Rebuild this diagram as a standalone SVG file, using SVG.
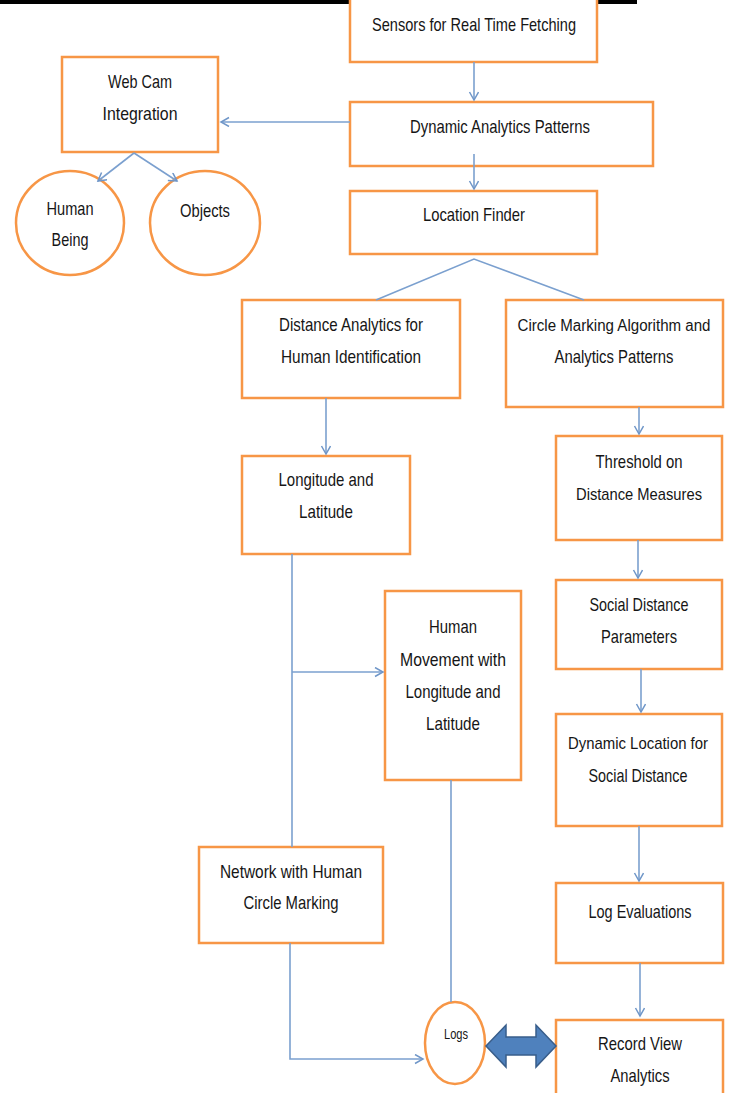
<svg xmlns="http://www.w3.org/2000/svg" width="732" height="1093" viewBox="0 0 732 1093">
<defs>
<marker id="ah" markerUnits="userSpaceOnUse" markerWidth="12" markerHeight="12" refX="9" refY="5" orient="auto">
<path d="M1,0.5 L9,5 L1,9.5" fill="none" stroke="#6f96c8" stroke-width="1.5"/>
</marker>
<style>
.b{fill:#fff;stroke:#f79646;stroke-width:2.5}
.c{fill:none;stroke:#7ba0cf;stroke-width:1.6}
.t{font-family:"Liberation Sans Narrow","Liberation Sans",Arial,sans-serif;font-size:19px;fill:#161616;text-anchor:middle}
.s{font-size:17px}
.s2{font-size:16px}
</style>
</defs>
<rect x="0" y="0" width="732" height="1093" fill="#fff"/>
<rect x="0" y="0" width="637" height="4" fill="#000"/>
<g id="sensors"><rect class="b" x="350" y="-3" width="247" height="65"/><text class="t" x="474" y="31" textLength="204" lengthAdjust="spacingAndGlyphs">Sensors for Real Time Fetching</text></g>
<g id="dynamic"><rect class="b" x="350" y="102" width="303" height="64"/><text class="t" x="500" y="133" textLength="180" lengthAdjust="spacingAndGlyphs">Dynamic Analytics Patterns</text></g>
<g id="webcam"><rect class="b" x="62" y="57" width="156" height="95"/><text class="t" x="140" y="88" textLength="64" lengthAdjust="spacingAndGlyphs">Web Cam</text><text class="t" x="140" y="120" textLength="75" lengthAdjust="spacingAndGlyphs">Integration</text></g>
<g id="human"><ellipse class="b" cx="70" cy="223" rx="54" ry="52"/><text class="t" x="70" y="215" textLength="47" lengthAdjust="spacingAndGlyphs">Human</text><text class="t" x="70" y="246" textLength="37" lengthAdjust="spacingAndGlyphs">Being</text></g>
<g id="objects"><ellipse class="b" cx="205" cy="223" rx="55" ry="52"/><text class="t" x="205" y="217" textLength="50" lengthAdjust="spacingAndGlyphs">Objects</text></g>
<g id="location"><rect class="b" x="350" y="191" width="247" height="63"/><text class="t" x="474" y="221" textLength="102" lengthAdjust="spacingAndGlyphs">Location Finder</text></g>
<g id="distance"><rect class="b" x="242" y="300" width="218" height="98"/><text class="t" x="351" y="331" textLength="144" lengthAdjust="spacingAndGlyphs">Distance Analytics for</text><text class="t" x="351" y="363" textLength="140" lengthAdjust="spacingAndGlyphs">Human Identification</text></g>
<g id="circlemark"><rect class="b" x="506" y="300" width="217" height="107"/><text class="t s2" x="614" y="331" textLength="193" lengthAdjust="spacingAndGlyphs">Circle Marking Algorithm and</text><text class="t" x="614" y="363" textLength="119" lengthAdjust="spacingAndGlyphs">Analytics Patterns</text></g>
<g id="longlat"><rect class="b" x="242" y="456" width="168" height="98"/><text class="t" x="326" y="486" textLength="95" lengthAdjust="spacingAndGlyphs">Longitude and</text><text class="t" x="326" y="518" textLength="54" lengthAdjust="spacingAndGlyphs">Latitude</text></g>
<g id="threshold"><rect class="b" x="556" y="436" width="166" height="104"/><text class="t" x="639" y="468" textLength="87" lengthAdjust="spacingAndGlyphs">Threshold on</text><text class="t s" x="639" y="500" textLength="126" lengthAdjust="spacingAndGlyphs">Distance Measures</text></g>
<g id="social"><rect class="b" x="556" y="580" width="166" height="89"/><text class="t" x="639" y="611" textLength="99" lengthAdjust="spacingAndGlyphs">Social Distance</text><text class="t" x="639" y="643" textLength="76" lengthAdjust="spacingAndGlyphs">Parameters</text></g>
<g id="movement"><rect class="b" x="385" y="591" width="136" height="189"/><text class="t" x="453" y="633" textLength="48" lengthAdjust="spacingAndGlyphs">Human</text><text class="t" x="453" y="666" textLength="106" lengthAdjust="spacingAndGlyphs">Movement with</text><text class="t" x="453" y="698" textLength="95" lengthAdjust="spacingAndGlyphs">Longitude and</text><text class="t" x="453" y="730" textLength="54" lengthAdjust="spacingAndGlyphs">Latitude</text></g>
<g id="dynloc"><rect class="b" x="556" y="714" width="166" height="112"/><text class="t s" x="638" y="749" textLength="140" lengthAdjust="spacingAndGlyphs">Dynamic Location for</text><text class="t" x="638" y="782" textLength="99" lengthAdjust="spacingAndGlyphs">Social Distance</text></g>
<g id="network"><rect class="b" x="199" y="847" width="184" height="96"/><text class="t" x="291" y="878" textLength="142" lengthAdjust="spacingAndGlyphs">Network with Human</text><text class="t" x="291" y="909" textLength="95" lengthAdjust="spacingAndGlyphs">Circle Marking</text></g>
<g id="logeval"><rect class="b" x="556" y="883" width="167" height="80"/><text class="t" x="640" y="918" textLength="103" lengthAdjust="spacingAndGlyphs">Log Evaluations</text></g>
<g id="record"><rect class="b" x="556" y="1020" width="167" height="80"/><text class="t" x="640" y="1050" textLength="84" lengthAdjust="spacingAndGlyphs">Record View</text><text class="t" x="640" y="1082" textLength="59" lengthAdjust="spacingAndGlyphs">Analytics</text></g>
<g id="logs"><ellipse class="b" cx="455" cy="1043" rx="30" ry="41"/><text class="t" x="456" y="1039" style="font-size:14px" textLength="24" lengthAdjust="spacingAndGlyphs">Logs</text></g>
<g id="connectors">
<line class="c" x1="474" y1="62" x2="474" y2="100" marker-end="url(#ah)"/>
<line class="c" x1="350" y1="122" x2="221" y2="122" marker-end="url(#ah)"/>
<line class="c" x1="134" y1="153" x2="98" y2="181" marker-end="url(#ah)"/>
<line class="c" x1="134" y1="153" x2="177" y2="181" marker-end="url(#ah)"/>
<line class="c" x1="474" y1="154" x2="474" y2="189" marker-end="url(#ah)"/>
<polyline class="c" points="376,300 474,259 584,300"/>
<line class="c" x1="326" y1="398" x2="326" y2="454" marker-end="url(#ah)"/>
<line class="c" x1="639" y1="407" x2="639" y2="434" marker-end="url(#ah)"/>
<line class="c" x1="638" y1="540" x2="638" y2="578" marker-end="url(#ah)"/>
<line class="c" x1="292" y1="554" x2="292" y2="847"/>
<line class="c" x1="292" y1="672" x2="383" y2="672" marker-end="url(#ah)"/>
<line class="c" x1="641" y1="669" x2="641" y2="712" marker-end="url(#ah)"/>
<line class="c" x1="639" y1="826" x2="639" y2="881" marker-end="url(#ah)"/>
<line class="c" x1="640" y1="963" x2="640" y2="1016" marker-end="url(#ah)"/>
<polyline class="c" points="290,943 290,1059 423,1059" marker-end="url(#ah)"/>
<line class="c" x1="451" y1="780" x2="451" y2="1002"/>
<path d="M486,1046 L506,1025 L506,1037 L536,1037 L536,1025 L556,1046 L536,1067 L536,1055 L506,1055 L506,1067 Z" fill="#4f81bd" stroke="#385d8a" stroke-width="1.5"/>
</g>
</svg>
